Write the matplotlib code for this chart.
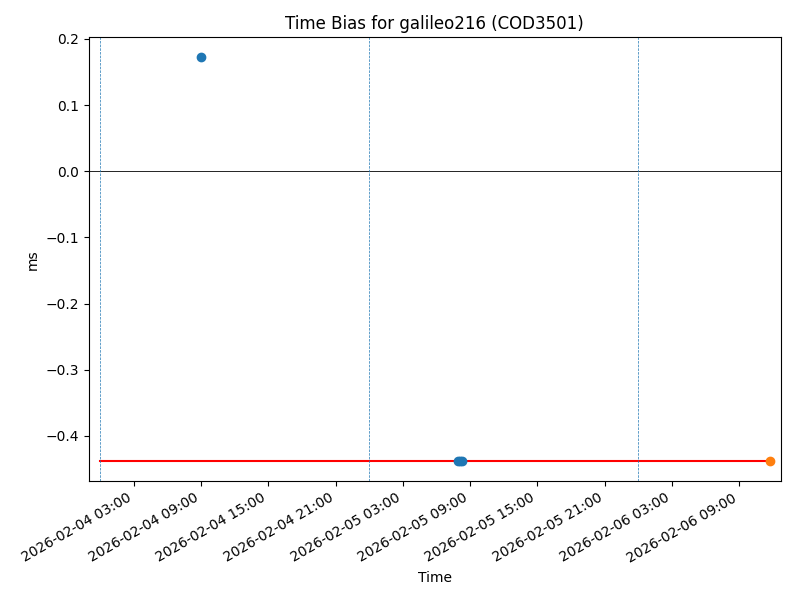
import matplotlib
matplotlib.use("Agg")
import matplotlib.pyplot as plt
import matplotlib.dates as mdates
import pandas as pd

blue_times = ["2026-02-04 09:00", "2026-02-05 07:55", "2026-02-05 08:05", "2026-02-05 08:15"]
blue_vals = [0.172, -0.438, -0.438, -0.438]
orange_times = ["2026-02-06 11:44"]
orange_vals = [-0.438]
ref_times = ["2026-02-04 00:00", "2026-02-06 11:44"]
ref_vals = [-0.438, -0.438]
day_lines = ["2026-02-04 00:00", "2026-02-05 00:00", "2026-02-06 00:00"]
xlim = ["2026-02-03 22:59", "2026-02-06 12:43"]

fig, ax = plt.subplots(figsize=(8, 6), dpi=100)
ax.plot(pd.to_datetime(ref_times), ref_vals, color="red", zorder=2)
ax.scatter(pd.to_datetime(blue_times), blue_vals, color="C0", zorder=3)
ax.scatter(pd.to_datetime(orange_times), orange_vals, color="C1", zorder=3)
ax.axhline(0, color="black", linewidth=0.6)
for d in day_lines:
    ax.axvline(pd.to_datetime(d), color="C0", linestyle="--", linewidth=0.5)
ax.set_xlim(pd.to_datetime(xlim))
ax.xaxis.set_major_locator(mdates.HourLocator(byhour=[3, 9, 15, 21]))
ax.xaxis.set_major_formatter(mdates.DateFormatter("%Y-%m-%d %H:%M"))
fig.autofmt_xdate()
ax.set_title("Time Bias for galileo216 (COD3501)")
ax.set_xlabel("Time")
ax.set_ylabel("ms")
fig.subplots_adjust(left=0.111, right=0.976, top=0.938, bottom=0.198)
fig.savefig("out.png")
